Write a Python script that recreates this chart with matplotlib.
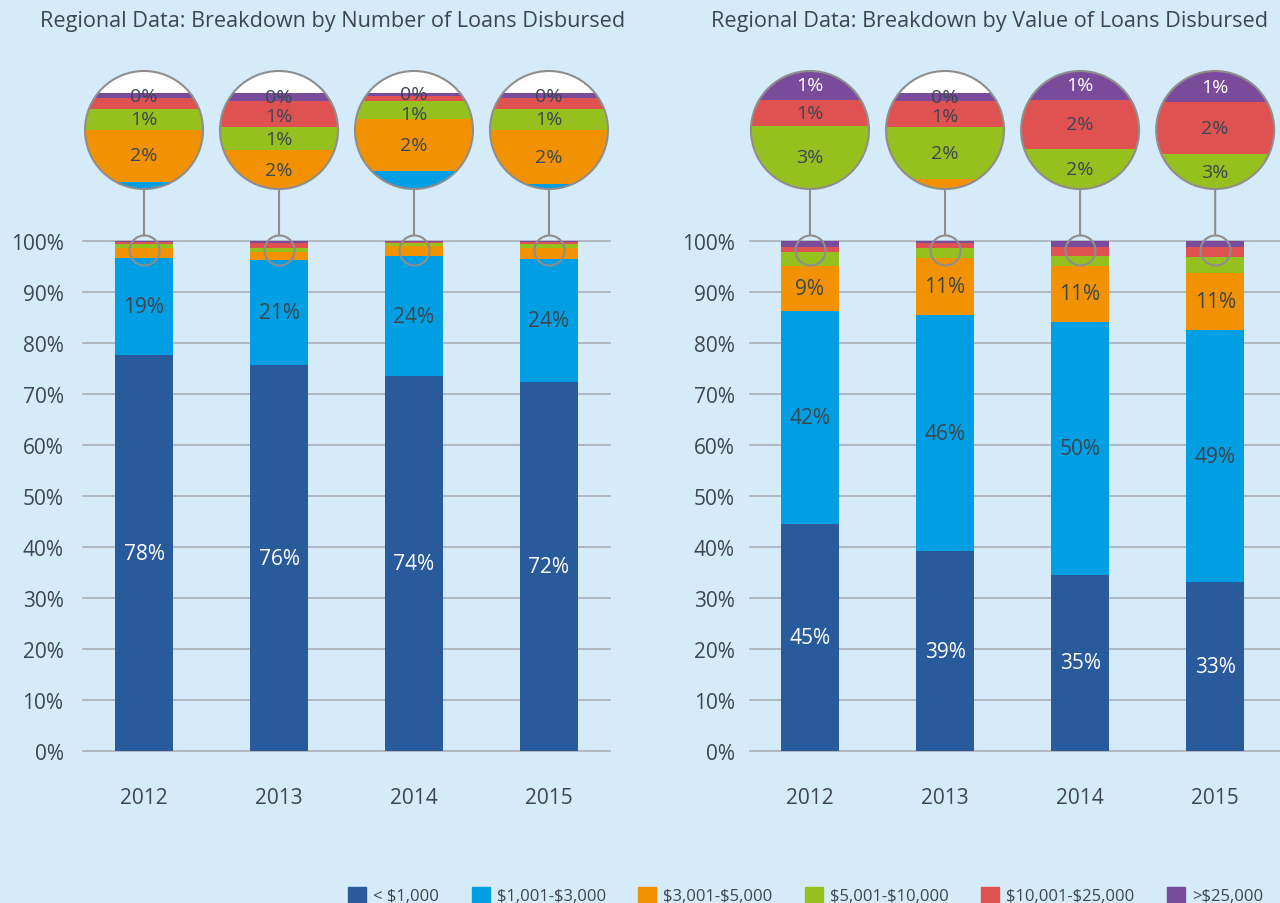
import matplotlib.pyplot as plt
import matplotlib.patches as mpatches
from matplotlib.patches import Circle, ConnectionPatch

plt.rcParams['font.family'] = ['Open Sans', 'DejaVu Sans']
plt.rcParams['text.parse_math'] = False   # keep the "$" signs literal

BG = '#d5ebfa'
TXT = '#3c4650'
GRID = '#a9b0b7'
RING = '#8e8e8e'

years = ['2012', '2013', '2014', '2015']
brackets = ['< $1,000', '$1,001-$3,000', '$3,001-$5,000',
            '$5,001-$10,000', '$10,001-$25,000', '>$25,000']
colors = ['#285a9c', '#009fe3', '#f39200', '#95c11f', '#e05252', '#7b4b9b']

# share of loans by number (%)
num_lt1k = [77.6, 75.6, 73.5, 72.4]
num_1k_3k = [19.0, 20.6, 23.5, 24.1]
num_3k_5k = [2.0, 1.6, 2.0, 2.1]
num_5k_10k = [0.8, 0.9, 0.7, 0.8]
num_10k_25k = [0.4, 1.0, 0.2, 0.4]
num_gt25k = [0.2, 0.3, 0.1, 0.2]

# share of loans by value (%)
val_lt1k = [44.6, 39.2, 34.6, 33.1]
val_1k_3k = [41.6, 46.3, 49.6, 49.4]
val_3k_5k = [8.9, 11.2, 10.9, 11.2]
val_5k_10k = [2.8, 2.0, 1.9, 3.1]
val_10k_25k = [1.0, 1.0, 1.9, 2.0]
val_gt25k = [1.1, 0.3, 1.1, 1.2]

num_series = [num_lt1k, num_1k_3k, num_3k_5k, num_5k_10k, num_10k_25k, num_gt25k]
val_series = [val_lt1k, val_1k_3k, val_3k_5k, val_5k_10k, val_10k_25k, val_gt25k]

W, H = 1280, 904
MAG_AT = 98.24      # value at the centre of the small ring on each bar
RING_R = 15         # px, small ring radius
BIG_R = 59          # px, magnifier radius
BIG_CY = H - 131    # px from bottom, magnifier centre
PX_PER_PCT = 26.0   # magnified scale inside the big circle
SPAN = 2 * BIG_R / PX_PER_PCT
LABEL_GAP = 19.5 / PX_PER_PCT   # min distance between labels in the circle


def fmt(v):
    return f'{v:.0f}%'


def draw_panel(ax, series, pad):
    x = list(range(len(years)))
    bottoms = [0.0] * len(years)
    for k, vals in enumerate(series):
        ax.bar(x, vals, width=0.43, bottom=bottoms, color=colors[k], zorder=2)
        for i, v in enumerate(vals):
            if v >= 5:
                ax.text(i, bottoms[i] + v / 2, fmt(v), ha='center', va='center',
                        fontsize=15, color='white' if k == 0 else TXT, zorder=3)
        bottoms = [b + v for b, v in zip(bottoms, vals)]

    ax.set_ylim(0, 100)
    ax.set_yticks(range(0, 101, 10))
    ax.set_yticklabels([f'{t}%' for t in range(0, 101, 10)])
    ax.set_xticks(x)
    ax.set_xticklabels(years)
    ax.yaxis.grid(True, color=GRID, linewidth=1.2)
    ax.set_axisbelow(True)
    for s in ax.spines.values():
        s.set_visible(False)
    ax.tick_params(axis='y', length=0, pad=pad, labelsize=15, labelcolor=TXT)
    ax.tick_params(axis='x', length=0, pad=26, labelsize=15, labelcolor=TXT)
    ax.set_facecolor('none')
    for gl in ax.get_ygridlines():
        gl.set_clip_on(False)

    # small rings on the bar tops
    ax.plot(x, [MAG_AT] * len(x), linestyle='none', marker='o',
            markersize=2 * RING_R * 0.72, markerfacecolor='none',
            markeredgecolor=RING, markeredgewidth=1.5, zorder=4, clip_on=False)


def add_magnifier(fig, ax, series, i):
    cx, _ = ax.transData.transform((i, 0))
    iax = fig.add_axes([(cx - BIG_R) / W, (BIG_CY - BIG_R) / H,
                        2 * BIG_R / W, 2 * BIG_R / H])
    top = 100.85 if series[-1][i] < 0.5 else 100.0
    iax.set_xlim(-1, 1)
    iax.set_ylim(top - SPAN, top)
    iax.axis('off')

    disc = Circle((0.5, 0.5), 0.5, transform=iax.transAxes,
                  facecolor='white', edgecolor='none', zorder=0)
    iax.add_patch(disc)

    bottoms = []
    b = 0.0
    for vals in series:
        bottoms.append(b)
        b += vals[i]

    for k, vals in enumerate(series):
        bars = iax.bar(0, vals[i], bottom=bottoms[k], width=4,
                       color=colors[k], zorder=1)
        for p in bars:
            p.set_clip_path(disc)

    # labels for the small brackets, top to bottom
    # a crowded label repeating the one above is dropped, otherwise nudged down
    last_y, last_txt = None, None
    lo_view, hi_view = top - SPAN, top
    for k in range(len(series) - 1, 1, -1):
        v = series[k][i]
        lo = max(bottoms[k], lo_view)
        hi = min(bottoms[k] + v, hi_view)
        vis = hi - lo
        full = bottoms[k] >= lo_view and bottoms[k] + v <= hi_view
        if not (vis > 0.5 or (full and vis > 0)):
            continue
        yc = (lo + hi) / 2
        txt = fmt(v)
        if last_y is not None and last_y - yc < LABEL_GAP:
            if txt == last_txt:
                continue
            yc = last_y - LABEL_GAP
        last_y, last_txt = yc, txt
        col = 'white' if (k == 5 and v >= 0.5) else TXT
        iax.text(0, yc, txt, ha='center', va='center', fontsize=14,
                 color=col, zorder=3)

    ring = Circle((0.5, 0.5), 0.5, transform=iax.transAxes, facecolor='none',
                  edgecolor=RING, linewidth=1.5, zorder=5, clip_on=False)
    iax.add_patch(ring)

    con = ConnectionPatch(xyA=(0.5, 0), coordsA=iax.transAxes,
                          xyB=(i, MAG_AT), coordsB=ax.transData,
                          color=RING, linewidth=1.5, shrinkB=RING_R * 0.72)
    fig.add_artist(con)


fig = plt.figure(figsize=(W / 100, H / 100), dpi=100)
fig.patch.set_facecolor(BG)

ax1 = fig.add_axes([83 / W, (H - 752) / H, 527 / W, 510 / H])
ax1.set_xlim(-0.452, 3.452)
ax2 = fig.add_axes([750 / W, (H - 752) / H, 530 / W, 510 / H])
ax2.set_xlim(-0.444, 3.48)

draw_panel(ax1, num_series, pad=14)
draw_panel(ax2, val_series, pad=11)

for i in range(len(years)):
    add_magnifier(fig, ax1, num_series, i)
    add_magnifier(fig, ax2, val_series, i)

fig.text(40 / W, 1 - 22 / H, 'Regional Data: Breakdown by Number of Loans Disbursed',
         ha='left', va='center', fontsize=15.6, color=TXT)
fig.text(711 / W, 1 - 22 / H, 'Regional Data: Breakdown by Value of Loans Disbursed',
         ha='left', va='center', fontsize=15.6, color=TXT)

handles = [mpatches.Patch(color=c) for c in colors]
leg = fig.legend(handles, brackets, ncol=6, loc='lower right',
                 bbox_to_anchor=(1278 / W, -0.018), frameon=False,
                 fontsize=12, handlelength=1.1, handleheight=1.1,
                 handletextpad=0.4, columnspacing=1.95, labelcolor=TXT)

fig.savefig('out.png', dpi=100, facecolor=BG)
